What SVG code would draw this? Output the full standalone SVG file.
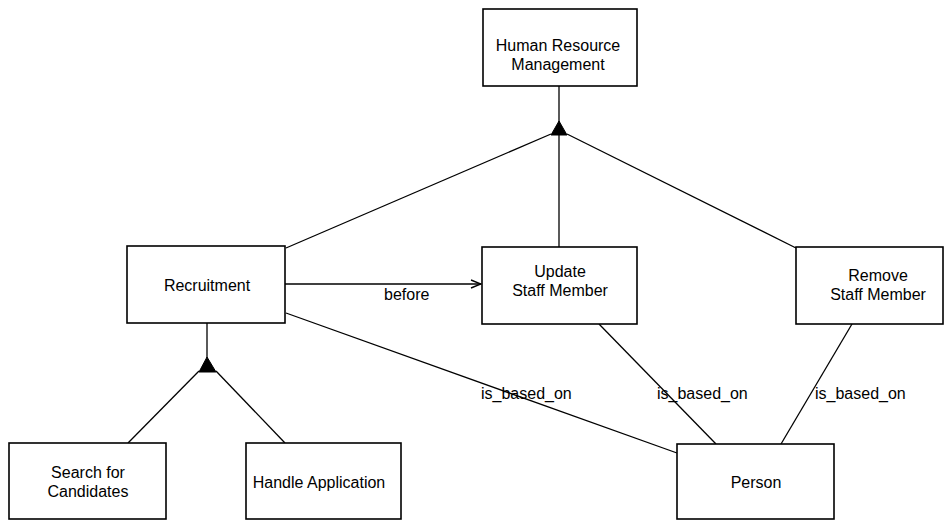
<svg xmlns="http://www.w3.org/2000/svg" width="945" height="521" viewBox="0 0 945 521">
<style>
.box{fill:#fff;stroke:#000;stroke-width:1.6}
.t{font-family:"Liberation Sans",Arial,sans-serif;font-size:16px;fill:#000;text-anchor:middle}
.l{font-family:"Liberation Sans",Arial,sans-serif;font-size:16px;fill:#000}
.c{stroke:#000;stroke-width:1.3;fill:none}
.tri{fill:#000;stroke:#000;stroke-width:1}
</style>
<defs>
<marker id="open" markerWidth="12" markerHeight="10" refX="11" refY="5" orient="auto" markerUnits="userSpaceOnUse">
<path d="M1,1 L11,5 L1,9" fill="none" stroke="#000" stroke-width="1.4"/>
</marker>
</defs>
<rect width="945" height="521" fill="#fff"/>
<g id="connectors">
<line class="c" x1="559" y1="86" x2="559" y2="247"/>
<polygon class="tri" points="559,121 551,135 567,135"/>
<line class="c" x1="551" y1="134" x2="286" y2="248"/>
<line class="c" x1="567" y1="134" x2="796" y2="248"/>
<line class="c" x1="207" y1="323" x2="207" y2="358"/>
<polygon class="tri" points="207,357 199,372 216,372"/>
<line class="c" x1="199" y1="371" x2="128" y2="443"/>
<line class="c" x1="216" y1="371" x2="285" y2="443"/>
<line class="c" x1="285" y1="284" x2="481" y2="284" marker-end="url(#open)" stroke-width="1.6"/>
<text class="l" x="384" y="300">before</text>
<line class="c" x1="286" y1="313" x2="677" y2="453"/>
<line class="c" x1="599" y1="324" x2="716" y2="444"/>
<line class="c" x1="852" y1="324" x2="781" y2="444"/>
<text class="l" x="481" y="399">is_based_on</text>
<text class="l" x="657" y="399">is_based_on</text>
<text class="l" x="815" y="399">is_based_on</text>
</g>
<g id="hrm">
<rect class="box" x="483" y="9" width="154" height="77"/>
<text class="t" x="558" y="51">Human Resource</text>
<text class="t" x="558" y="70">Management</text>
</g>
<g id="recruitment">
<rect class="box" x="127" y="246" width="158" height="77"/>
<text class="t" x="207" y="291">Recruitment</text>
</g>
<g id="update">
<rect class="box" x="482" y="247" width="155" height="77"/>
<text class="t" x="560" y="277">Update</text>
<text class="t" x="560" y="296">Staff Member</text>
</g>
<g id="remove">
<rect class="box" x="796" y="247" width="147" height="77"/>
<text class="t" x="878" y="281">Remove</text>
<text class="t" x="878" y="300">Staff Member</text>
</g>
<g id="search">
<rect class="box" x="9" y="443" width="157" height="76"/>
<text class="t" x="88" y="478">Search for</text>
<text class="t" x="88" y="497">Candidates</text>
</g>
<g id="handle">
<rect class="box" x="246" y="443" width="155" height="76"/>
<text class="t" x="319" y="488">Handle Application</text>
</g>
<g id="person">
<rect class="box" x="677" y="444" width="157" height="75"/>
<text class="t" x="756" y="488">Person</text>
</g>
</svg>
